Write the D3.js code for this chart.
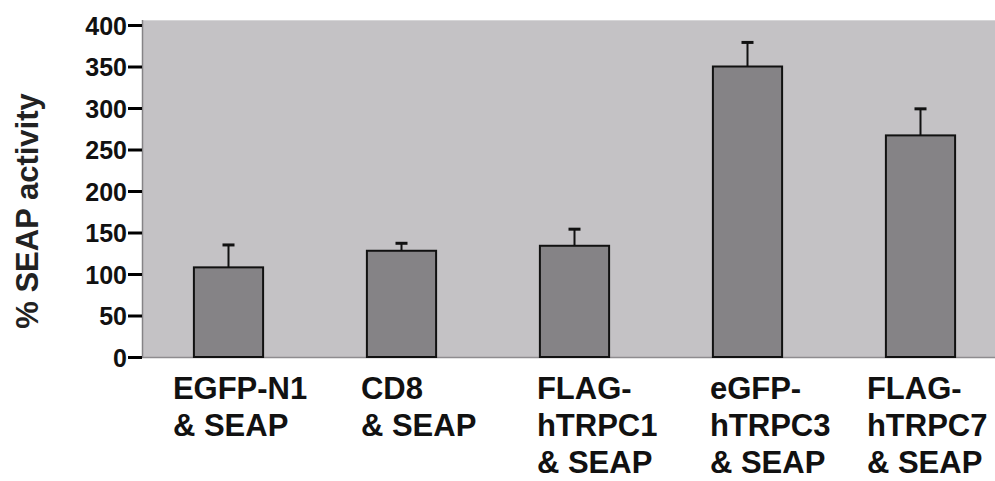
<!DOCTYPE html>
<html>
<head>
<meta charset="utf-8">
<script src="https://cdn.jsdelivr.net/npm/d3@7"></script>
<style>
  body { margin: 0; background: #fff; }
  svg { display: block; font-family: "Liberation Sans", Arial, sans-serif; }
</style>
</head>
<body>
<div id="chart"></div>
<script>
// values
var groups = ['EGFP-N1', 'CD8', 'hTRPC1', 'hTRPC3', 'hTRPC7'];
var groupLabels = [
  ['EGFP-N1', '& SEAP'],
  ['CD8', '& SEAP'],
  ['FLAG-', 'hTRPC1', '& SEAP'],
  ['eGFP-', 'hTRPC3', '& SEAP'],
  ['FLAG-', 'hTRPC7', '& SEAP']
];
var means = [108, 128, 134, 350, 267];
var errors = [27, 9, 20, 29, 32];
var yTicks = [0, 50, 100, 150, 200, 250, 300, 350, 400];

var width = 995, height = 481;
var plotLeft = 142, plotTop = 20, plotBottom = 358;
// labels were hand placed in the original, small nudges from bar left edge
var labelShift = [-21, -6, -3, -3, -19];

var svg = d3.select('#chart')
  .append('svg')
  .attr('width', width)
  .attr('height', height);

var x = d3.scaleBand()
  .domain(groups)
  .range([plotLeft, 1007])
  .paddingInner(0.6)
  .paddingOuter(0.3);

var y = d3.scaleLinear()
  .domain([0, 400])
  .range([357, 25]);

// plot background
svg.append('rect')
  .attr('x', plotLeft)
  .attr('y', plotTop)
  .attr('width', width - plotLeft)
  .attr('height', plotBottom - plotTop)
  .style('fill', '#c4c2c5');
svg.append('line')
  .attr('x1', plotLeft).attr('x2', width)
  .attr('y1', plotTop + 0.5).attr('y2', plotTop + 0.5)
  .style('stroke', '#d6d5d7');
svg.append('line')
  .attr('x1', plotLeft).attr('x2', width)
  .attr('y1', plotBottom - 0.5).attr('y2', plotBottom - 0.5)
  .style('stroke', '#8e8c8f').style('stroke-width', 1.5);
svg.append('line')
  .attr('x1', plotLeft + 0.5).attr('x2', plotLeft + 0.5)
  .attr('y1', plotTop).attr('y2', plotBottom)
  .style('stroke', '#858386').style('stroke-width', 1.5);

// y axis
var yAxis = svg.append('g')
  .attr('transform', 'translate(' + plotLeft + ',0)')
  .call(d3.axisLeft(y).tickValues(yTicks).tickSize(14).tickPadding(1));
yAxis.select('.domain').remove();
yAxis.selectAll('.tick line').style('stroke', '#000').style('stroke-width', 3);
yAxis.selectAll('.tick text')
  .style('font-size', '25px')
  .style('font-weight', 'bold')
  .style('fill', '#111')
  .attr('dy', '0.36em');

svg.append('text')
  .attr('transform', 'translate(38,211) rotate(-90)')
  .attr('text-anchor', 'middle')
  .style('font-size', '31px')
  .style('font-weight', 'bold')
  .style('fill', '#222')
  .text('% SEAP activity');

// error bars
var err = svg.selectAll('.err').data(groups)
  .enter().append('g').attr('class', 'err');
err.append('line')
  .attr('x1', function(d){ return x(d) + x.bandwidth()/2; })
  .attr('x2', function(d){ return x(d) + x.bandwidth()/2; })
  .attr('y1', function(d,i){ return y(means[i]); })
  .attr('y2', function(d,i){ return y(means[i] + errors[i]); })
  .style('stroke', '#111').style('stroke-width', 2);
err.append('line')
  .attr('x1', function(d){ return x(d) + x.bandwidth()/2 - 6; })
  .attr('x2', function(d){ return x(d) + x.bandwidth()/2 + 6; })
  .attr('y1', function(d,i){ return y(means[i] + errors[i]); })
  .attr('y2', function(d,i){ return y(means[i] + errors[i]); })
  .style('stroke', '#111').style('stroke-width', 3);

// bars
svg.selectAll('.bar').data(groups)
  .enter().append('rect')
  .attr('class', 'bar')
  .attr('x', function(d){ return x(d); })
  .attr('y', function(d,i){ return y(means[i]); })
  .attr('width', x.bandwidth())
  .attr('height', function(d,i){ return y(0) - y(means[i]); })
  .style('fill', '#858386')
  .style('stroke', '#111')
  .style('stroke-width', 2);

// category labels
var labels = svg.selectAll('.lab').data(groups)
  .enter().append('text')
  .attr('class', 'lab')
  .style('font-size', '31px')
  .style('font-weight', 'bold')
  .style('fill', '#111');
labels.each(function(d,i){
  var t = d3.select(this);
  groupLabels[i].forEach(function(line, k){
    t.append('tspan')
      .attr('x', x(d) + labelShift[i])
      .attr('y', 399 + k*37)
      .text(line);
  });
});
</script>
</body>
</html>
